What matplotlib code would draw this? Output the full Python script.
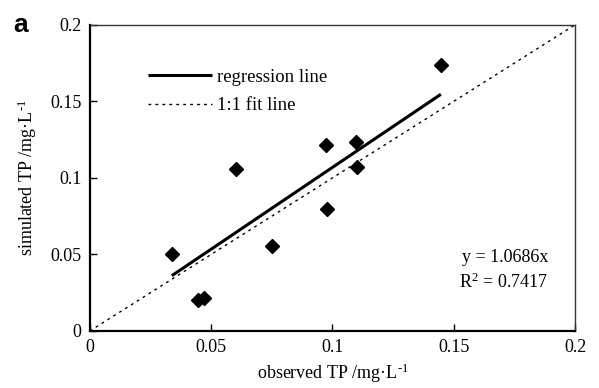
import matplotlib
matplotlib.use("Agg")
import matplotlib.pyplot as plt
import numpy as np

plt.rcParams['font.family'] = ['Liberation Serif', 'DejaVu Serif']
plt.rcParams['mathtext.fontset'] = 'custom'
plt.rcParams['mathtext.rm'] = 'Liberation Serif'
plt.rcParams['mathtext.it'] = 'Liberation Serif:italic'

# observed vs simulated TP (mg/L)
observed = [0.0338, 0.0445, 0.047, 0.0602, 0.075, 0.0973, 0.0977, 0.1097, 0.110, 0.1447]
simulated = [0.0503, 0.0203, 0.0216, 0.106, 0.0556, 0.1216, 0.0797, 0.1235, 0.107, 0.1739]
slope = 1.0686
r2 = 0.7417
ticks = [0, 0.05, 0.1, 0.15, 0.2]
tick_labels = ['0', '0.05', '0.1', '0.15', '0.2']

fig = plt.figure(figsize=(5.99, 3.88), dpi=100)
ax = fig.add_axes([0.150, 0.147, 0.810, 0.789])

ax.plot([0, 0.2], [0, 0.2], color='black', lw=1.0, ls=(0, (2, 3)), label='1:1 fit line')
xr = np.array([min(observed), max(observed)])
ax.plot(xr, slope * xr, color='black', lw=2.2, solid_capstyle='butt', label='regression line')
ax.plot(observed, simulated, 'D', color='black', ms=7, zorder=3)

ax.set_xlim(0, 0.2)
ax.set_ylim(0, 0.2)
ax.set_xticks(ticks)
ax.set_xticklabels(tick_labels)
ax.set_yticks(ticks)
ax.set_yticklabels(tick_labels)
ax.tick_params(direction='in', length=5, width=1, labelsize=13, top=False, right=False, pad=6)

for s in ['left', 'bottom']:
    ax.spines[s].set_linewidth(1.6)
for s in ['top', 'right']:
    ax.spines[s].set_linewidth(1.0)
    ax.spines[s].set_color('#333333')

h, l = ax.get_legend_handles_labels()
ax.legend([h[1], h[0]], [l[1], l[0]], loc='upper left', bbox_to_anchor=(0.12, 0.857),
          frameon=False, fontsize=13.5, handlelength=3.4, handletextpad=0.27,
          labelspacing=0.6, borderpad=0, borderaxespad=0)

ax.text(0.945, 0.239, 'y = %.4fx' % slope, transform=ax.transAxes, ha='right', va='center', fontsize=13)
ax.text(0.945, 0.160, 'R$^{2}$ = %.4f' % r2, transform=ax.transAxes, ha='right', va='center', fontsize=13)

ax.set_xlabel(r'observed TP /mg·L$^{\text{-1}}$', fontsize=13, labelpad=4)
ax.set_ylabel(r'simulated TP /mg·L$^{\text{-1}}$', fontsize=13, labelpad=8)

fig.text(0.022, 0.935, 'a', fontsize=19, fontweight='bold', family='Liberation Sans', va='center')

fig.savefig('out.png', dpi=100)
